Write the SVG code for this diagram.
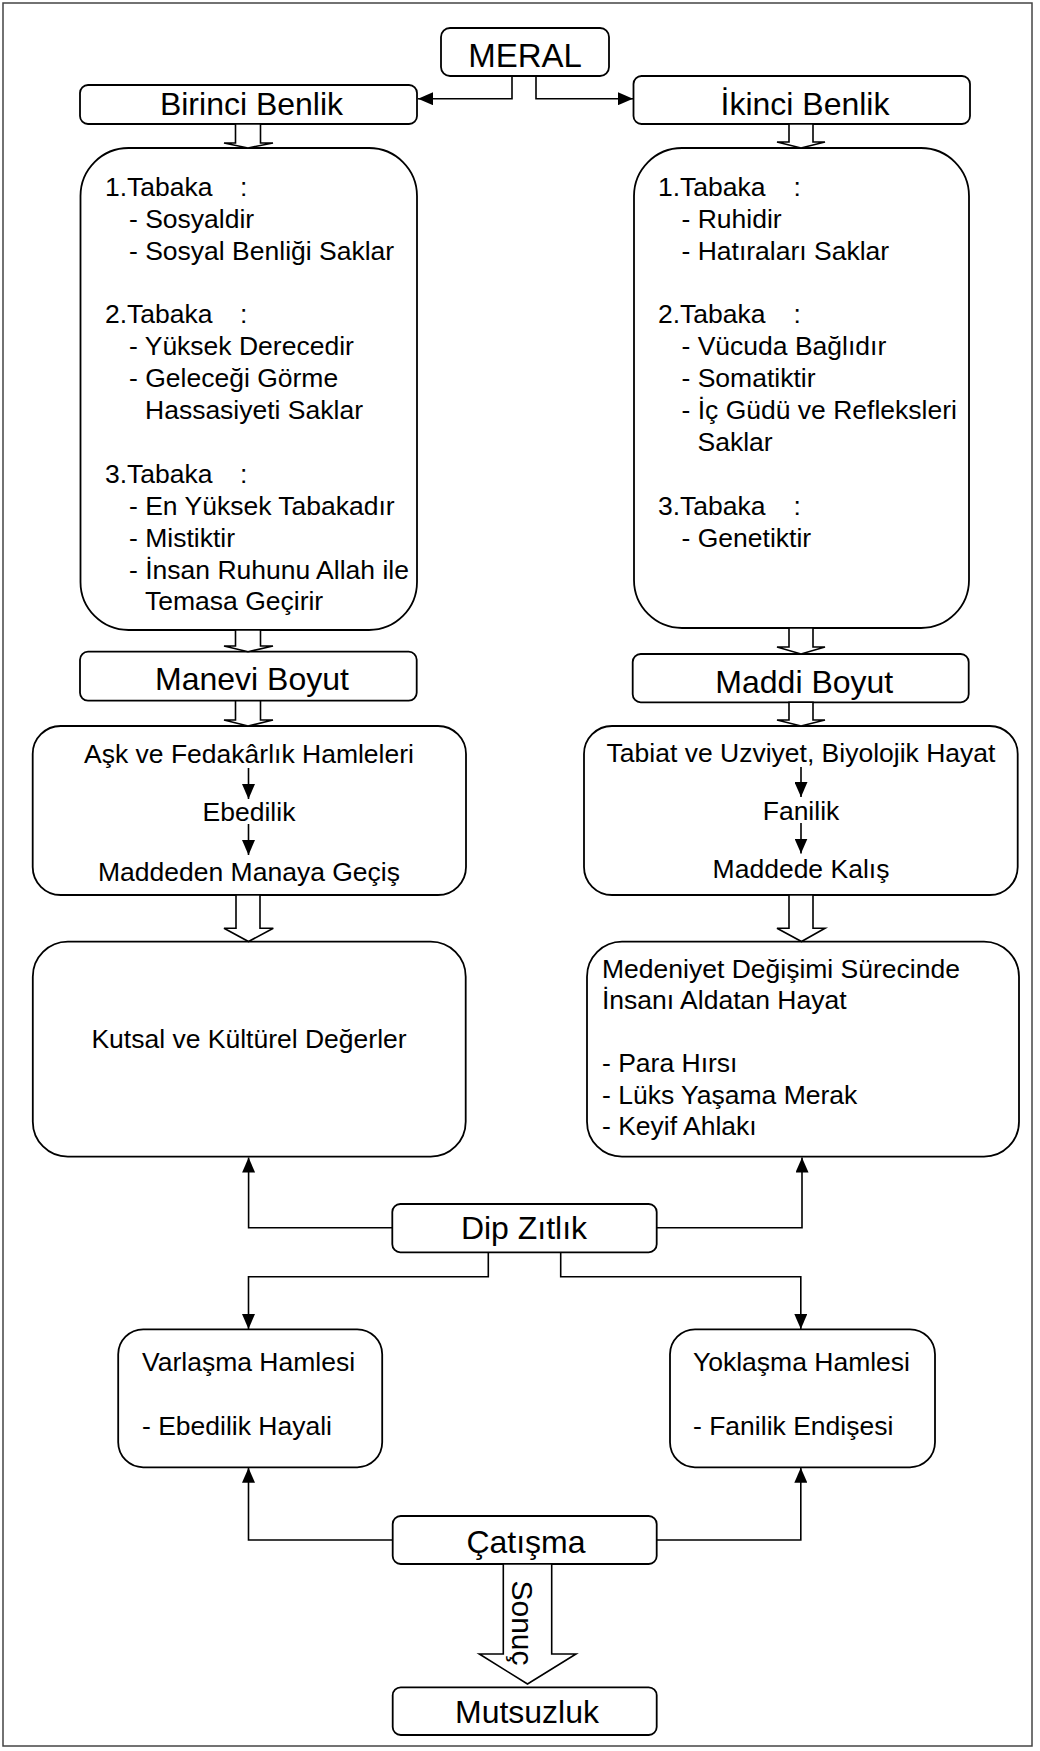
<svg xmlns="http://www.w3.org/2000/svg" width="1040" height="1751" viewBox="0 0 1040 1751">
<style>
text{font-family:"Liberation Sans",Arial,sans-serif;fill:#000}
.t{font-size:32px;text-anchor:middle}
.b{font-size:26.5px}
.c{font-size:26.5px;text-anchor:middle}
.box{fill:#fff;stroke:#000;stroke-width:1.8}
.blk{fill:#fff;stroke:#000;stroke-width:1.6;stroke-linejoin:miter}
.ln{fill:none;stroke:#000;stroke-width:1.6}
</style>
<defs>
<marker id="arr" markerUnits="userSpaceOnUse" markerWidth="16" markerHeight="13" refX="15" refY="6.5" orient="auto">
<path d="M0,0 L15,6.5 L0,13 z" fill="#000"/>
</marker>
</defs>
<rect x="3" y="3" width="1029" height="1743" fill="#fff" stroke="#444" stroke-width="1.5"/>

<g id="meral"><rect class="box" x="441" y="28" width="168" height="48" rx="9"/><text class="t" x="525" y="67" style="font-size:33px">MERAL</text></g>
<g id="birinci"><rect class="box" x="80" y="85" width="337" height="39" rx="8"/><text class="t" x="251.5" y="115">Birinci Benlik</text></g>
<g id="ikinci"><rect class="box" x="633.5" y="76" width="336.5" height="48" rx="8"/><text class="t" x="805" y="115">İkinci Benlik</text></g>

<g id="birinci-tabaka"><rect class="box" x="80.5" y="148" width="336.5" height="482" rx="48"/>
<text class="b" x="105" y="195.5">1.Tabaka<tspan x="240">:</tspan></text>
<text class="b" x="129" y="227.5">- Sosyaldir</text>
<text class="b" x="129" y="259.5">- Sosyal Benliği Saklar</text>
<text class="b" x="105" y="323.3">2.Tabaka<tspan x="240">:</tspan></text>
<text class="b" x="129" y="355.2">- Yüksek Derecedir</text>
<text class="b" x="129" y="387.1">- Geleceği Görme</text>
<text class="b" x="145" y="419">Hassasiyeti Saklar</text>
<text class="b" x="105" y="482.8">3.Tabaka<tspan x="240">:</tspan></text>
<text class="b" x="129" y="514.7">- En Yüksek Tabakadır</text>
<text class="b" x="129" y="546.6">- Mistiktir</text>
<text class="b" x="129" y="578.5">- İnsan Ruhunu Allah ile</text>
<text class="b" x="145" y="610.4">Temasa Geçirir</text>
</g>

<g id="ikinci-tabaka"><rect class="box" x="634" y="148" width="335" height="480" rx="48"/>
<text class="b" x="658" y="195.5">1.Tabaka<tspan x="793.5">:</tspan></text>
<text class="b" x="681.5" y="227.5">- Ruhidir</text>
<text class="b" x="681.5" y="259.5">- Hatıraları Saklar</text>
<text class="b" x="658" y="323.3">2.Tabaka<tspan x="793.5">:</tspan></text>
<text class="b" x="681.5" y="355.2">- Vücuda Bağlıdır</text>
<text class="b" x="681.5" y="387.1">- Somatiktir</text>
<text class="b" x="681.5" y="419">- İç Güdü ve Refleksleri</text>
<text class="b" x="697.5" y="450.9">Saklar</text>
<text class="b" x="658" y="514.7">3.Tabaka<tspan x="793.5">:</tspan></text>
<text class="b" x="681.5" y="546.6">- Genetiktir</text>
</g>

<g id="manevi"><rect class="box" x="80" y="651.7" width="336.7" height="49" rx="8"/><text class="t" x="252" y="690">Manevi Boyut</text></g>
<g id="maddi"><rect class="box" x="632.7" y="654" width="336" height="48.3" rx="8"/><text class="t" x="804.3" y="693.3">Maddi Boyut</text></g>

<g id="ask"><rect class="box" x="32.7" y="726" width="433.3" height="169" rx="28"/>
<text class="c" x="249" y="762.7">Aşk ve Fedakârlık Hamleleri</text>
<text class="c" x="249" y="821">Ebedilik</text>
<text class="c" x="249" y="880.7">Maddeden Manaya Geçiş</text>
</g>
<g id="tabiat"><rect class="box" x="584" y="726" width="433.7" height="169" rx="28"/>
<text class="c" x="801" y="761.7">Tabiat ve Uzviyet, Biyolojik Hayat</text>
<text class="c" x="801" y="820">Fanilik</text>
<text class="c" x="801" y="878.3">Maddede Kalış</text>
</g>

<g id="kutsal"><rect class="box" x="32.8" y="941.7" width="432.9" height="215" rx="35"/>
<text class="c" x="249" y="1048.3">Kutsal ve Kültürel Değerler</text></g>
<g id="medeniyet"><rect class="box" x="587" y="941.7" width="432" height="215" rx="35"/>
<text class="b" x="602" y="977.7">Medeniyet Değişimi Sürecinde</text>
<text class="b" x="602" y="1009.2">İnsanı Aldatan Hayat</text>
<text class="b" x="602" y="1072.2">- Para Hırsı</text>
<text class="b" x="602" y="1103.7">- Lüks Yaşama Merak</text>
<text class="b" x="602" y="1135.2">- Keyif Ahlakı</text>
</g>

<g id="dip"><rect class="box" x="392.3" y="1204" width="264.4" height="48.3" rx="8"/><text class="t" x="524" y="1239.3">Dip Zıtlık</text></g>

<g id="varlasma"><rect class="box" x="118.2" y="1329.3" width="264" height="138" rx="25"/>
<text class="b" x="142" y="1370.7">Varlaşma Hamlesi</text>
<text class="b" x="142" y="1435">- Ebedilik Hayali</text></g>
<g id="yoklasma"><rect class="box" x="670" y="1329.3" width="265" height="138" rx="25"/>
<text class="b" x="693" y="1370.7">Yoklaşma Hamlesi</text>
<text class="b" x="693" y="1435">- Fanilik Endişesi</text></g>

<g id="catisma"><rect class="box" x="392.7" y="1516" width="264" height="48" rx="8"/><text class="t" x="526" y="1552.7">Çatışma</text></g>
<g id="mutsuzluk"><rect class="box" x="392.7" y="1687.3" width="264" height="47.7" rx="8"/><text class="t" x="527" y="1723.3">Mutsuzluk</text></g>

<g id="connectors">
<path class="ln" d="M512,76 V98.7 H418" marker-end="url(#arr)"/>
<path class="ln" d="M536,76 V98.7 H633" marker-end="url(#arr)"/>
<path class="ln" d="M248.5,768 V799" marker-end="url(#arr)"/>
<path class="ln" d="M248.5,824 V855" marker-end="url(#arr)"/>
<path class="ln" d="M801,767 V797" marker-end="url(#arr)"/>
<path class="ln" d="M801,823 V853.5" marker-end="url(#arr)"/>
<path class="ln" d="M392.3,1227.7 H248.6 V1157.5" marker-end="url(#arr)"/>
<path class="ln" d="M656.7,1227.7 H802 V1157.5" marker-end="url(#arr)"/>
<path class="ln" d="M488.3,1252.3 V1276.7 H248.5 V1329" marker-end="url(#arr)"/>
<path class="ln" d="M560.7,1252.3 V1276.7 H800.8 V1329" marker-end="url(#arr)"/>
<path class="ln" d="M392.7,1540 H248.5 V1467.8" marker-end="url(#arr)"/>
<path class="ln" d="M656.7,1540 H800.8 V1467.8" marker-end="url(#arr)"/>
<polygon class="blk" points="235.5,124 260.5,124 260.5,143 273,143 248,148 224,143 235.5,143"/>
<polygon class="blk" points="789,124 813,124 813,142 825,142 801,148 777,142 789,142"/>
<polygon class="blk" points="235.5,630 260.5,630 260.5,646 273,646 248,651.7 224,646 235.5,646"/>
<polygon class="blk" points="789,628 813,628 813,647 825,647 801,654 777,647 789,647"/>
<polygon class="blk" points="235.5,700.7 260.5,700.7 260.5,720 273,720 248,726 224,720 235.5,720"/>
<polygon class="blk" points="789,702.3 813,702.3 813,720 825,720 801,726 777,720 789,720"/>
<polygon class="blk" points="236,895 260,895 260,928.3 273.3,928.3 248.5,941.5 224,928.3 236,928.3"/>
<polygon class="blk" points="789,895 813,895 813,928.3 825,928.3 801.5,941.5 777,928.3 789,928.3"/>
<polygon class="blk" points="503.3,1564 551.7,1564 551.7,1654 576,1654 527.5,1684 479.3,1654 503.3,1654"/>
<text transform="translate(512,1623) rotate(90)" style="font-size:30px;text-anchor:middle">Sonuç</text>
</g>
</svg>
